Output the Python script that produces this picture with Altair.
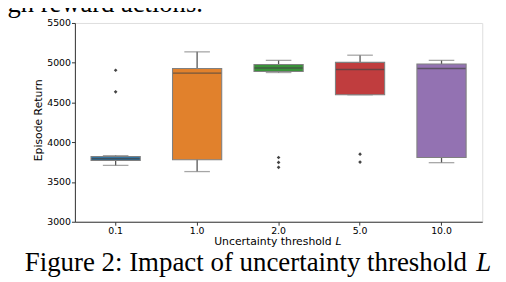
import altair as alt
import pandas as pd

# ---- data ----
categories = ["0.1", "1.0", "2.0", "5.0", "10.0"]
q1_vals = [3770, 3780, 4890, 4597, 3808]
median_vals = [3792, 4869, 4934, 4915, 4927]
q3_vals = [3820, 4927, 4977, 5005, 4984]
whisker_low = [3709, 3631, 4877, 4597, 3743]
whisker_high = [3833, 5137, 5030, 5095, 5030]
outlier_cats = ["0.1", "0.1", "2.0", "2.0", "2.0", "5.0", "5.0"]
outlier_vals = [4906, 4634, 3808, 3746, 3684, 3850, 3751]
box_colors = ["#3274a1", "#e1812c", "#3a923a", "#c03d3e", "#9372b2"]
y_ticks = [3000, 3500, 4000, 4500, 5000, 5500]

boxes = pd.DataFrame({
    "cat": categories, "q1": q1_vals, "med": median_vals, "q3": q3_vals,
    "lo": whisker_low, "hi": whisker_high,
})
outliers = pd.DataFrame({"cat": outlier_cats, "v": outlier_vals})

FONT = "DejaVu Sans"
SERIF = "Liberation Serif"

xenc = alt.X(
    "cat:N", sort=categories,
    scale=alt.Scale(type="band", domain=categories, paddingInner=0, paddingOuter=0),
    axis=alt.Axis(title=None, labelFontSize=9.5, labelFont=FONT, labelColor="#000",
                  tickSize=3.5, labelPadding=0.5, domainColor="#333", tickColor="#333",
                  labelAngle=0),
)
yscale = alt.Scale(domain=[3000, 5500], nice=False, zero=False)
yaxis = alt.Axis(title=None, values=y_ticks, format="d", labelFontSize=9.5,
                 labelFont=FONT, labelColor="#000", tickSize=3.5, labelPadding=1,
                 grid=False, domainColor="#333", tickColor="#333")

base = alt.Chart(boxes).encode(x=xenc)

whiskers = base.mark_rule(color="#555", strokeWidth=1.3).encode(
    y=alt.Y("lo:Q", scale=yscale, axis=yaxis), y2="hi:Q")
caps_lo = base.mark_tick(color="#808080", thickness=1.3, size=26).encode(
    y=alt.Y("lo:Q", scale=yscale))
caps_hi = base.mark_tick(color="#808080", thickness=1.3, size=26).encode(
    y=alt.Y("hi:Q", scale=yscale))
bars = base.mark_bar(size=50, stroke="#808080", strokeWidth=1.1).encode(
    y=alt.Y("q1:Q", scale=yscale), y2="q3:Q",
    color=alt.Color("cat:N", scale=alt.Scale(domain=categories, range=box_colors),
                    legend=None),
)
medians = base.mark_tick(color="#444", thickness=1.4, size=49).encode(
    y=alt.Y("med:Q", scale=yscale))
fliers = alt.Chart(outliers).mark_point(
    shape="diamond", filled=True, color="#444", size=14, opacity=1
).encode(x=alt.X("cat:N", sort=categories), y=alt.Y("v:Q", scale=yscale))

one = alt.Data(values=[{}])


def label(text, x, y, size, font=FONT, style="normal", align="left", angle=0,
          baseline="alphabetic"):
    return alt.Chart(one).mark_text(
        text=text, font=font, fontSize=size, fontStyle=style, align=align,
        baseline=baseline, angle=angle, color="#000"
    ).encode(x=alt.value(x), y=alt.value(y))


texts = [
    label("Uncertainty threshold", 261, 225.5, 11, align="right"),
    label("L", 271, 225.5, 11, style="italic", align="right"),
    label("Episode Return", -36, 99, 11, align="center", angle=270, baseline="middle"),
    label("Figure 2: Impact of uncertainty threshold", -51, 252.5, 27.3, font=SERIF),
    label("L", 408, 252.5, 27.3, font=SERIF, style="italic"),
    label("igh reward actions.", -76, -11, 27, font=SERIF),
]

chart = alt.layer(whiskers, caps_lo, caps_hi, bars, medians, fliers, *texts).properties(
    width=414, height=202,
    padding={"left": 68, "top": 13, "right": 16, "bottom": 59},
    autosize=alt.AutoSizeParams(type="none"),
).configure_view(stroke="#777", strokeWidth=1.2).configure(background="white")

chart.save("out.html", embed_options={"renderer": "svg", "actions": False})
